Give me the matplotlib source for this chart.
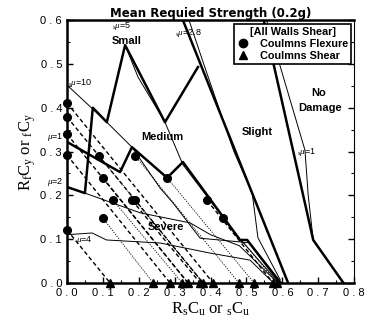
import matplotlib
matplotlib.use("Agg")
import matplotlib.pyplot as plt
from matplotlib.lines import Line2D

plt.rcParams['font.family'] = ['Liberation Sans', 'DejaVu Sans']
plt.rcParams['mathtext.fontset'] = 'custom'
plt.rcParams['mathtext.rm'] = 'Liberation Serif'
plt.rcParams['mathtext.it'] = 'Liberation Serif:italic'

# columns flexure points and the x where each dashed line meets the axis
flex_x = [0.0, 0.0, 0.0, 0.0, 0.0, 0.089, 0.100, 0.128, 0.100, 0.181, 0.190, 0.190, 0.279, 0.390, 0.435]
flex_y = [0.411, 0.379, 0.340, 0.292, 0.121, 0.290, 0.240, 0.189, 0.148, 0.189, 0.189, 0.290, 0.240, 0.189, 0.148]
flex_end = [0.407, 0.379, 0.337, 0.287, 0.120, 0.379, 0.337, 0.321, 0.240, 0.371, 0.379, 0.479, 0.521, 0.574, 0.585]
flex_bold = [True, True, True, True, True, False, True, False, False, True, False, False, False, True, False]

# columns shear points on the axis
shear_x = [0.120, 0.240, 0.287, 0.321, 0.337, 0.371, 0.379, 0.407, 0.479, 0.521, 0.574, 0.585]

# thick damage boundaries
nodmg_x = [0.548, 0.686, 0.770]
nodmg_y = [0.600, 0.098, 0.000]
slight_x = [0.323, 0.616]
slight_y = [0.600, 0.000]
small_x = [0.000, 0.050, 0.072, 0.111, 0.162, 0.273, 0.365]
small_y = [0.219, 0.205, 0.400, 0.367, 0.543, 0.367, 0.493]
med_x = [0.000, 0.148, 0.181, 0.279, 0.323, 0.482, 0.502, 0.594]
med_y = [0.322, 0.253, 0.310, 0.240, 0.276, 0.098, 0.098, 0.000]

# thin constant-ductility curves
mu1_x = [0.556, 0.663, 0.672, 0.686, 0.770]
mu1_y = [0.600, 0.303, 0.200, 0.098, 0.000]
mu28_x = [0.340, 0.383, 0.465, 0.516, 0.532, 0.594]
mu28_y = [0.600, 0.495, 0.300, 0.205, 0.103, 0.007]
mu5_x = [0.162, 0.198, 0.273, 0.323, 0.488, 0.508, 0.598]
mu5_y = [0.543, 0.470, 0.367, 0.270, 0.092, 0.092, 0.000]
mu10_x = [0.000, 0.111, 0.181, 0.259, 0.295, 0.371, 0.490, 0.590]
mu10_y = [0.452, 0.367, 0.310, 0.217, 0.183, 0.102, 0.093, 0.000]
mu2_x = [0.050, 0.204, 0.343, 0.400, 0.480, 0.585]
mu2_y = [0.205, 0.160, 0.137, 0.110, 0.085, 0.002]
mu4_x = [0.000, 0.070, 0.110, 0.260, 0.399, 0.510, 0.575]
mu4_y = [0.110, 0.114, 0.098, 0.091, 0.068, 0.052, 0.000]

fig = plt.figure(figsize=(3.72, 3.2), dpi=100)
ax = fig.add_axes([0.180, 0.116, 0.772, 0.821])

for x0, y0, xe, b in zip(flex_x, flex_y, flex_end, flex_bold):
    if b:
        ax.plot([x0, xe], [y0, 0], color='k', lw=1.0, ls=(0, (3, 2)))
    else:
        ax.plot([x0, xe], [y0, 0], color='k', lw=0.6, ls=(0, (1.5, 1.5)))

for xs, ys in [(mu1_x, mu1_y), (mu28_x, mu28_y), (mu5_x, mu5_y),
               (mu10_x, mu10_y), (mu2_x, mu2_y), (mu4_x, mu4_y)]:
    ax.plot(xs, ys, color='k', lw=0.7)

for xs, ys in [(nodmg_x, nodmg_y), (slight_x, slight_y), (small_x, small_y),
               (med_x, med_y)]:
    ax.plot(xs, ys, color='k', lw=1.8)

ax.plot(flex_x, flex_y, 'o', color='k', ms=5.5, clip_on=False, zorder=5)
ax.plot(shear_x, [0] * len(shear_x), '^', color='k', ms=5.5, clip_on=False, zorder=5)

ax.set_xlim(0, 0.8)
ax.set_ylim(0, 0.6)
ax.set_xticks([0.0, 0.1, 0.2, 0.3, 0.4, 0.5, 0.6, 0.7, 0.8])
ax.set_yticks([0.0, 0.1, 0.2, 0.3, 0.4, 0.5, 0.6])
ax.set_xticks([0.05, 0.15, 0.25, 0.35, 0.45, 0.55, 0.65, 0.75], minor=True)
ax.set_yticks([0.05, 0.15, 0.25, 0.35, 0.45, 0.55], minor=True)
ax.set_xticklabels(['0 . 0', '0 . 1', '0 . 2', '0 . 3', '0 . 4', '0 . 5', '0 . 6', '0 . 7', '0 . 8'])
ax.set_yticklabels(['0 . 0', '0 . 1', '0 . 2', '0 . 3', '0 . 4', '0 . 5', '0 . 6'])
ax.tick_params(which='both', direction='in', right=True, top=False, labelsize=8)
ax.tick_params(which='major', length=4, width=1)
ax.tick_params(which='minor', length=2, width=0.8)
for s in ['left', 'bottom', 'top']:
    ax.spines[s].set_linewidth(1.8)
ax.spines['right'].set_linewidth(0.8)

ax.set_xlabel(r'$\mathrm{R_{s}C_{u}\ or\ {}_{s}C_{u}}$', fontsize=12, labelpad=2)
ax.set_ylabel(r'$\mathrm{R_{f}C_{y}\ or\ {}_{f}C_{y}}$', fontsize=12, labelpad=2)
ax.set_title('Mean Requied Strength (0.2g)', fontsize=8.5, fontweight='bold', pad=1,
             family='DejaVu Sans')

bold = dict(fontsize=8, fontweight='bold', ha='center', va='center')
ax.text(0.165, 0.552, 'Small', **bold)
ax.text(0.265, 0.333, 'Medium', **bold)
ax.text(0.530, 0.345, 'Slight', **bold)
ax.text(0.700, 0.434, 'No', **bold)
ax.text(0.705, 0.400, 'Damage', **bold)
ax.text(0.275, 0.128, 'Severe', **bold)

small = dict(fontsize=6.5, ha='left', va='center')
ax.text(0.125, 0.586, r'$_{s}\mu$=5', **small)
ax.text(0.300, 0.570, r'$_{s}\mu$=2.8', **small)
ax.text(0.002, 0.457, r'$_{s}\mu$=10', **small)
ax.text(0.640, 0.298, r'$_{s}\mu$=1', **small)
ax.text(-0.055, 0.333, r'$\mu$=1', **small)
ax.text(-0.055, 0.230, r'$\mu$=2', **small)
ax.text(0.025, 0.098, r'$\mu$=4', **small)

handles = [Line2D([], [], ls='', marker='o', color='k', ms=6),
           Line2D([], [], ls='', marker='^', color='k', ms=6)]
leg = ax.legend(handles, ['Coulmns Flexure', 'Coulmns Shear'], title='[All Walls Shear]',
                loc='upper right', bbox_to_anchor=(0.99, 0.985), borderaxespad=0,
                fancybox=False, edgecolor='k', framealpha=1,
                prop={'size': 7.8, 'weight': 'bold'},
                title_fontproperties={'size': 7.8, 'weight': 'bold'},
                borderpad=0.25, handletextpad=1.0, labelspacing=0.2, handlelength=1.2)
leg.get_frame().set_linewidth(1.2)

fig.savefig('out.png', dpi=100)
